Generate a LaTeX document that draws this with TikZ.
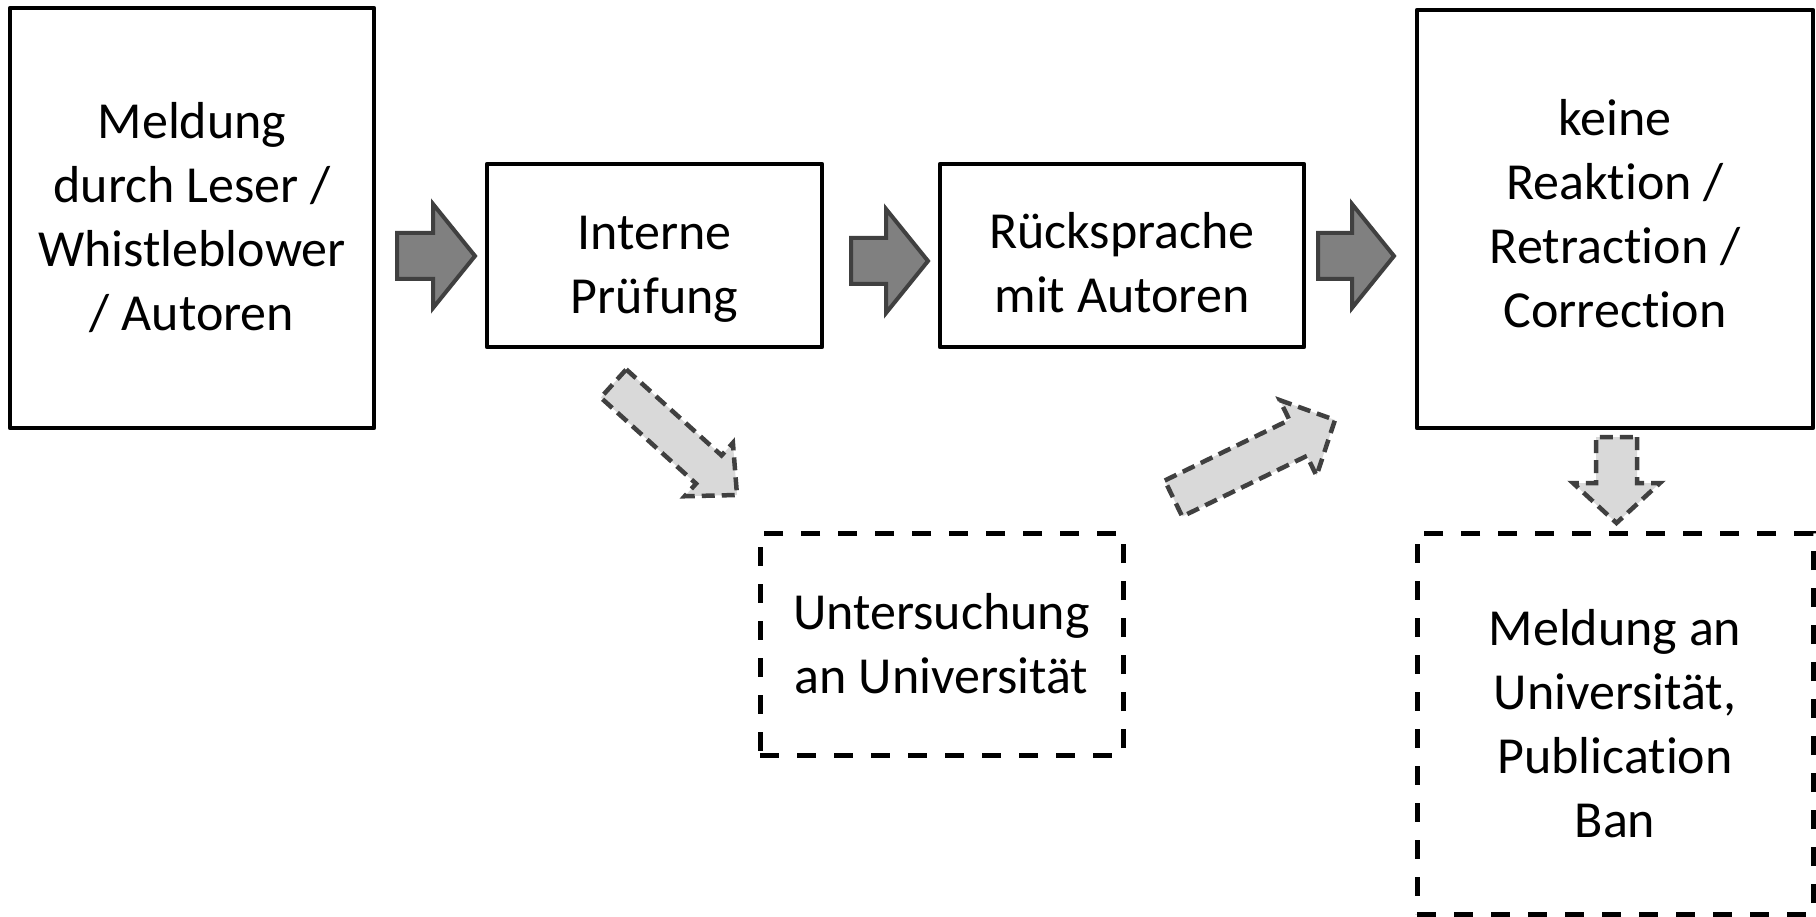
\documentclass[tikz,border=0pt]{standalone}
\usepackage{fontspec}
\setmainfont{Carlito}[Ligatures=NoCommon]
\usetikzlibrary{calc}

% block arrow from a tail coordinate to a tip coordinate
% #1 style, #2 tail, #3 tip, #4 body half-width, #5 head half-width, #6 head length
\newcommand\blockarrow[6]{%
  \path ($(#3)!#6!(#2)$) coordinate (ba-h);
  \draw[#1] ($(#2)!#4!90:(#3)$) -- ($(ba-h)!#4!90:(#3)$) -- ($(ba-h)!#5!90:(#3)$)
    -- (#3) -- ($(ba-h)!#5!-90:(#3)$) -- ($(ba-h)!#4!-90:(#3)$)
    -- ($(#2)!#4!-90:(#3)$) -- cycle;
}

\tikzset{
  boxtext/.style={font=\fontsize{52}{64}\selectfont, align=center, inner sep=0pt},
  solidbox/.style={boxtext, draw=black, line width=4.5pt, line join=round, rectangle},
  dashbox/.style={boxtext, draw=black, line width=5pt, dash pattern=on 19pt off 18pt, rectangle},
  mainarrow/.style={fill=black!50, draw=black!75, line width=4pt, line join=miter},
  sidearrow/.style={fill=black!15, draw=black!75, line width=4.5pt, line join=miter,
    dash pattern=on 13pt off 7pt},
}

\begin{document}
\begin{tikzpicture}[x=1pt,y=-1pt]
\useasboundingbox (0,0) rectangle (1816,917);

\node[solidbox, minimum width=364pt, minimum height=420pt] (melde) at (192,218)
  {Meldung\\durch Leser /\\Whistleblower\\/ Autoren};
\node[solidbox, minimum width=335pt, minimum height=183pt] (intern) at (654.5,255.5) {};
\node[boxtext] (intern-t) at ($(intern)+(0,14)$) {Interne\\Prüfung};
\node[solidbox, minimum width=364pt, minimum height=183pt] (rueck) at (1122,255.5) {};
\node[boxtext] (rueck-t) at ($(rueck)+(0,7)$) {Rücksprache\\mit Autoren};
\node[solidbox, minimum width=396pt, minimum height=418pt] (folge) at (1615,219) {};
\node[boxtext] (folge-t) at ($(folge)+(0,-5)$)
  {keine\\Reaktion /\\Retraction /\\Correction};
\node[dashbox, minimum width=363pt, minimum height=222pt] (unters) at (941.5,644)
  {Untersuchung\\an Universität};
\node[dashbox, minimum width=396pt, minimum height=381pt] (uni) at (1615,723.5)
  {Meldung an\\Universität,\\Publication\\Ban};

% arrow ends
\coordinate (a1t) at (397,256);    \coordinate (a1p) at (475,256);
\coordinate (a2t) at (851,261);    \coordinate (a2p) at (928,261);
\coordinate (a3t) at (1318,256);   \coordinate (a3p) at (1394,256);
\coordinate (d1t) at (613.5,383.5); \coordinate (d1p) at (737,495);
\coordinate (d2t) at (1173.5,498.5); \coordinate (d2p) at (1335,420);
\coordinate (d3t) at (1616.5,437); \coordinate (d3p) at (1616.5,523);

% main flow
\blockarrow{mainarrow}{a1t}{a1p}{23pt}{52pt}{42pt}
\blockarrow{mainarrow}{a2t}{a2p}{23pt}{52pt}{42pt}
\blockarrow{mainarrow}{a3t}{a3p}{23pt}{52pt}{42pt}

% optional branches
\blockarrow{sidearrow}{d1t}{d1p}{19pt}{36pt}{38pt}
\blockarrow{sidearrow}{d2t}{d2p}{20pt}{42pt}{41pt}
\blockarrow{sidearrow}{d3t}{d3p}{20.5pt}{43.5pt}{40pt}
\end{tikzpicture}
\end{document}
